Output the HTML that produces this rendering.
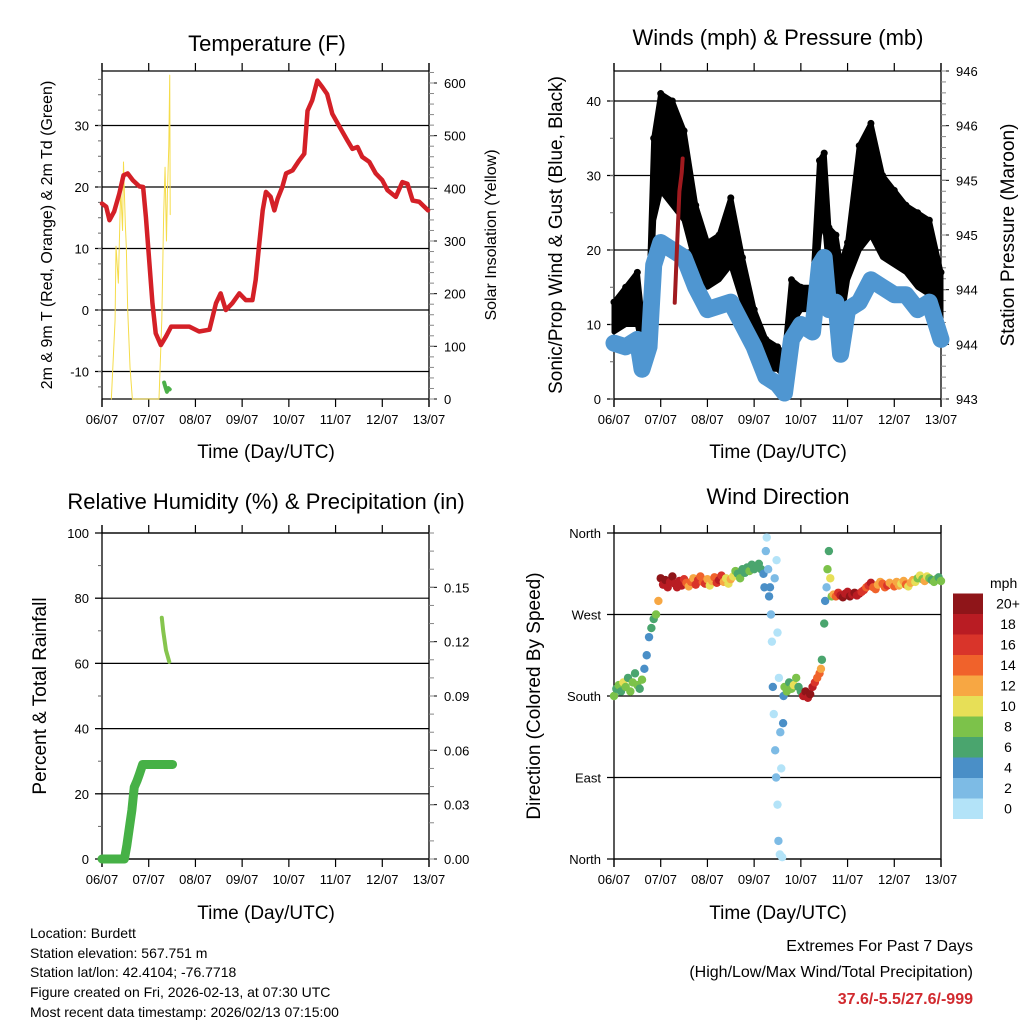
<!DOCTYPE html>
<html><head><meta charset="utf-8"><style>
html,body{margin:0;padding:0;background:#fff}
svg{display:block;font-family:"Liberation Sans",Arial,sans-serif}
</style></head><body>
<svg id="root" xmlns="http://www.w3.org/2000/svg" width="1024" height="1024" viewBox="0 0 1024 1024">
<rect width="1024" height="1024" fill="#fff"/>
<g id="g"></g>
<g font-size="22" text-anchor="middle">
<text x="267" y="51">Temperature (F)</text>
<text x="778" y="45">Winds (mph) &amp; Pressure (mb)</text>
<text x="266" y="509">Relative Humidity (%) &amp; Precipitation (in)</text>
<text x="778" y="504">Wind Direction</text>
</g>
<g font-size="19" text-anchor="middle">
<text x="266" y="458">Time (Day/UTC)</text>
<text x="778" y="458">Time (Day/UTC)</text>
<text x="266" y="919">Time (Day/UTC)</text>
<text x="778" y="919">Time (Day/UTC)</text>
<text transform="translate(52,235) rotate(-90)" font-size="16">2m &amp; 9m T (Red, Orange) &amp; 2m Td (Green)</text>
<text transform="translate(496,235) rotate(-90)" font-size="16">Solar Insolation (Yellow)</text>
<text transform="translate(562,235) rotate(-90)">Sonic/Prop Wind &amp; Gust (Blue, Black)</text>
<text transform="translate(1014,235) rotate(-90)">Station Pressure (Maroon)</text>
<text transform="translate(46,696) rotate(-90)">Percent &amp; Total Rainfall</text>
<text transform="translate(540,696) rotate(-90)">Direction (Colored By Speed)</text>
</g>
<g font-size="14">
<text x="30" y="938">Location: Burdett</text>
<text x="30" y="958">Station elevation: 567.751 m</text>
<text x="30" y="977">Station lat/lon: 42.4104; -76.7718</text>
<text x="30" y="997">Figure created on Fri, 2026-02-13, at 07:30 UTC</text>
<text x="30" y="1017">Most recent data timestamp: 2026/02/13 07:15:00</text>
</g>
<g font-size="16" text-anchor="end">
<text x="973" y="951">Extremes For Past 7 Days</text>
<text x="973" y="977">(High/Low/Max Wind/Total Precipitation)</text>
<text x="973" y="1004" fill="#d12a2f" font-weight="bold">37.6/-5.5/27.6/-999</text>
</g>
</svg>
<script>
// ---- data ----
const dayLabels=["06/07","07/07","08/07","09/07","10/07","11/07","12/07","13/07"];
const tempTime=[0,0.09,0.16,0.26,0.37,0.46,0.55,0.66,0.8,0.88,0.94,1.01,1.08,1.15,1.26,1.37,1.48,1.65,1.87,2.08,2.3,2.44,2.54,2.65,2.79,2.94,3.08,3.22,3.29,3.36,3.44,3.51,3.61,3.69,3.76,3.86,3.94,4.08,4.22,4.33,4.4,4.5,4.61,4.72,4.82,4.93,5.07,5.25,5.36,5.47,5.57,5.72,5.86,6,6.11,6.29,6.43,6.54,6.65,6.79,6.98];
const tempVals=[17.3,16.8,14.6,16,18.9,21.9,22.2,21.1,20.1,20,15.1,8.1,1.1,-3.8,-5.7,-4.3,-2.7,-2.7,-2.7,-3.5,-3.2,1.1,2.7,0,1.1,2.7,1.6,1.6,4.9,10.3,16.2,19.2,18.4,16.2,18.1,20,22.2,22.7,24.3,25.4,32.4,34.1,37.3,36.2,35.1,31.9,30,27.6,26.2,26.5,24.9,24.1,22.2,21.1,19.5,18.4,20.8,20.5,17.8,17.6,16.2];
const solarTime=[0.2,0.28,0.3,0.35,0.4,0.44,0.46,0.5,0.52,0.55,0.6,0.65,1.22,1.28,1.32,1.35,1.38,1.4,1.43,1.45,1.46];
const solarVals=[0,150,290,220,400,320,450,330,290,170,60,0,0,150,350,440,300,390,480,615,350];
const dewTime=[1.33,1.36,1.39,1.42,1.45];
const dewVals=[-11.8,-12.6,-13.3,-12.7,-12.9];
const windTime=[0,0.25,0.5,0.6,0.75,0.85,1,1.25,1.5,1.75,2,2.25,2.5,2.75,3,3.25,3.5,3.65,3.8,4,4.25,4.4,4.5,4.6,4.75,4.85,5,5.25,5.5,5.75,6,6.25,6.5,6.75,7];
const windVals=[7.5,7,8,4,7,18,21,20,19,15,12,12.5,13,10,7,3,2,0.8,8,10,9,18,19,12,13,6,12,13,16,15,14,14,12,13,8];
const gustLo=[9,10,10,7,9,24,28,26,24,18,15,16,18,13,8,4,4,3,10,12,12,22,24,17,16,10,16,20,22,19,18,17,15,14,10];
const gustHi=[13,15,17,11,15,35,41,40,36,26,21,22,27,19,12,8,7,6,16,15,15,32,33,23,22,18,21,34,37,30,28,26,25,24,17];
const presTime=[1.3,1.35,1.4,1.45,1.47];
const presVals=[943.88,944.4,944.9,945.07,945.2];
const rainTime=[0,0.48,0.53,0.58,0.64,0.69,0.75,0.8,0.87,1.51];
const rainVals=[0,0,4,9,15,22,24,26,29,29];
const rhTime=[1.28,1.31,1.34,1.37,1.41,1.44];
const rhVals=[74,70,67,64,62,60.5];
const dirTime=[0,0.05,0.1,0.15,0.2,0.25,0.3,0.35,0.4,0.45,0.5,0.55,0.6,
0.65,0.7,0.75,0.8,0.85,0.9,0.95,
1,1.05,1.1,1.15,1.2,1.25,1.3,1.35,1.4,1.45,1.5,1.55,1.6,1.65,1.7,1.75,1.8,1.85,1.9,1.95,2,2.05,2.1,2.15,2.2,2.25,2.3,2.35,2.4,2.45,2.5,
2.55,2.6,2.65,2.7,2.75,2.8,2.85,2.9,2.95,3,3.05,3.1,3.15,3.2,
3.22,3.25,3.27,3.3,3.32,3.34,3.36,3.38,3.4,3.42,3.45,3.47,3.5,3.52,3.55,3.44,3.48,3.5,3.53,3.56,3.58,3.6,3.62,3.63,
3.65,3.7,3.75,3.8,3.85,3.9,3.95,4,
4.05,4.1,4.15,4.2,4.25,4.3,4.35,4.4,4.43,
4.45,4.5,4.52,4.55,4.57,4.6,4.63,4.66,
4.7,4.75,4.8,4.85,4.9,4.95,5,5.05,5.1,5.15,5.2,5.25,5.3,5.35,5.4,5.45,5.5,5.55,5.6,5.65,5.7,5.75,5.8,5.85,5.9,5.95,6,6.05,6.1,6.15,6.2,6.25,6.3,6.35,6.4,6.45,6.5,6.55,6.6,6.65,6.7,6.75,6.8,6.85,6.9,6.95,7];
const dirVals=[180,188,192,185,195,190,200,185,195,205,192,188,198,
210,225,245,255,265,270,285,
310,303,308,300,306,312,304,300,307,302,309,305,301,306,310,303,308,312,306,304,309,302,307,311,305,308,313,306,310,304,309,
312,318,315,310,320,316,322,318,325,320,322,326,320,315,
300,340,355,320,290,300,270,240,190,160,120,90,60,20,5,310,330,250,200,140,100,2,150,180,
190,185,195,188,192,200,190,185,
180,185,178,182,190,195,200,205,210,
220,260,285,300,320,340,310,290,
292,290,294,291,289,293,295,290,292,294,291,293,295,297,300,302,305,300,298,303,306,304,300,302,305,303,301,306,302,304,307,303,301,305,308,306,310,313,309,307,312,310,308,306,309,311,307];
const dirSpeed=[8,7,8,7,10,8,7,8,9,7,8,6,8,
4,4,5,6,6,8,12,
20,19,20,18,19,20,18,19,19,18,16,14,12,14,12,16,17,15,14,16,12,10,12,14,16,18,16,13,11,10,12,
10,8,7,8,7,6,7,8,6,7,6,7,6,4,
4,2,1,3,4,4,2,1,4,1,2,3,1,2,0,3,1,1,1,2,0,0,4,4,
8,9,7,8,10,8,6,7,
18,20,19,20,18,16,14,14,12,
6,6,4,3,8,6,10,8,
12,14,16,18,20,18,19,20,18,20,19,18,16,17,14,16,18,15,14,13,12,14,15,16,13,12,14,12,13,11,12,14,10,12,13,10,9,10,8,12,10,8,7,9,8,7,8];
const tempTicks=[-10,0,10,20,30];
const solarTicks=[0,100,200,300,400,500,600];
const windTicks=[0,10,20,30,40];
const presTicks=[943,943.5,944,944.5,945,945.5,946];
const rhTicks=[0,20,40,60,80,100];
const rainTicks=[0,0.03,0.06,0.09,0.12,0.15];
const dirLabels=["North","East","South","West","North"];
const cbLabels=["0","2","4","6","8","10","12","14","16","18","20+"];
const cbColors=["#b3e3f8","#7dbbe5","#4a8fc7","#4aa56e","#7cc24a","#e7df57","#f7a743","#f0622b","#d9342a","#b91c23","#8f1519"];

// ---- helpers ----
const NS="http://www.w3.org/2000/svg";
const G=document.getElementById('g');
function mk(tag,attrs,parent){const e=document.createElementNS(NS,tag);for(const k in attrs)e.setAttribute(k,attrs[k]);(parent||G).appendChild(e);return e;}
function lin(d0,d1,r0,r1){return v=>r0+(v-d0)*(r1-r0)/(d1-d0);}

function panel(ox,top,bot,name,grid,yL,leftTicks,leftFmt,yR,rightTicks,rightFmt,minorL,minorR){
  const x=lin(0,7,ox,ox+327);
  const g=mk('g',{});
  
  
  grid.forEach(v=>{const l=mk('line',{x1:ox-7,x2:ox+327,y1:yL(v),y2:yL(v),stroke:'#000','stroke-width':1.2},g);});
  const f=mk('path',{d:`M${ox},${top}H${ox+327}M${ox},${top-8}V${bot+8}M${ox+327},${top-8}V${bot+8}M${ox},${bot}H${ox+327}`,stroke:'#000','stroke-width':1.3,fill:'none'},g);
  
  for(let d=0;d<=7;d++){
    const t=mk('path',{d:`M${x(d)},${top-8}V${top}M${x(d)},${bot}V${bot+8}`,stroke:'#000','stroke-width':1.2},g);
    
    const tx=mk('text',{x:x(d),y:bot+25,'font-size':13,'text-anchor':'middle'},g);
    
    tx.textContent=dayLabels[d];
  }
  leftTicks.forEach(v=>{
    const t=mk('line',{x1:ox-7,x2:ox,y1:yL(v),y2:yL(v),stroke:'#000'},g);
    const tx=mk('text',{x:ox-13,y:yL(v)+5,'font-size':13,'text-anchor':'end'},g);
    
    tx.textContent=leftFmt(v);
  });
  minorL.forEach(v=>{const t=mk('line',{x1:ox-4,x2:ox,y1:yL(v),y2:yL(v),stroke:'#666'},g);});
  if(yR){
    rightTicks.forEach(v=>{
      const t=mk('line',{x1:ox+327,x2:ox+335,y1:yR(v),y2:yR(v),stroke:'#000'},g);
      const tx=mk('text',{x:ox+342,y:yR(v)+5,'font-size':13},g);
      
      tx.textContent=rightFmt(v);
    });
    minorR.forEach(v=>{const t=mk('line',{x1:ox+327,x2:ox+332,y1:yR(v),y2:yR(v),stroke:'#888'},g);});
  }
  return {x,g};
}
function poly(xs,ys,X,Y,attrs,parent,name){
  const p=mk('polyline',Object.assign({points:xs.map((t,i)=>X(t)+','+Y(ys[i])).join(' '),fill:'none','stroke-linejoin':'round','stroke-linecap':'round'},attrs),parent);
  return p;
}
function range(a,b,s){const r=[];for(let v=a;v<=b+1e-9;v+=s)r.push(+v.toFixed(4));return r;}

// ---- Temperature ----
const yT=lin(0,10,310,248.5), yS=lin(0,600,399,83);
let P=panel(102,71,399,'temperature-panel',tempTicks,yT,tempTicks,v=>v,yS,solarTicks,v=>v,range(-12.5,37.5,2.5),range(0,620,20));
poly(solarTime,solarVals,P.x,yS,{stroke:'#f5dc4a','stroke-width':1},P.g,'solar-line');
poly(tempTime,tempVals,P.x,yT,{stroke:'#d42027','stroke-width':4.5},P.g,'temperature-line');
poly(dewTime,dewVals,P.x,yT,{stroke:'#4cb04a','stroke-width':4},P.g,'dewpoint-line');

// ---- Wind ----
const yW=lin(0,10,399,324.5), yP=lin(943,946,399,71);
P=panel(614,71,399,'wind-panel',windTicks,yW,windTicks,v=>v,yP,presTicks,v=>Math.round(v),range(0,44,5),range(943,946,0.1));
{
  const pts=windTime.map((t,i)=>P.x(t)+','+yW(gustHi[i])).concat(windTime.map((t,i)=>P.x(t)+','+yW(gustLo[i])).reverse());
  const band=mk('polygon',{points:pts.join(' '),fill:'#000',stroke:'#000','stroke-width':5,'stroke-linejoin':'round'},P.g);
  
  windTime.forEach((t,i)=>{
    const c=mk('circle',{cx:P.x(t),cy:yW(gustHi[i]),r:3.5,fill:'#000'},P.g);
    
  });
}
poly(windTime,windVals,P.x,yW,{stroke:'#4f96d1','stroke-width':17},P.g,'wind-line');
poly(presTime,presVals,P.x,yP,{stroke:'#a01a1f','stroke-width':4},P.g,'pressure-line');

// ---- RH ----
const yR=lin(0,100,859,533), yPr=lin(0,0.18,859,533);
P=panel(102,533,859,'humidity-panel',rhTicks,yR,rhTicks,v=>v,yPr,rainTicks,v=>v.toFixed(2),range(10,90,20),range(0,0.18,0.01));
poly(rainTime,rainVals,P.x,yR,{stroke:'#46b146','stroke-width':9},P.g,'rainfall-line');
poly(rhTime,rhVals,P.x,yR,{stroke:'#86c54e','stroke-width':4},P.g,'humidity-line');

// ---- Direction ----
const yD=lin(0,360,859,533);
P=panel(614,533,859,'wind-direction-panel',[0,90,180,270,360],yD,[0,90,180,270,360],v=>dirLabels[[0,90,180,270,360].indexOf(v)],null,[],null,[],[]);
function spdColor(s){return cbColors[Math.max(0,Math.min(10,Math.floor(s/2)))];}
dirTime.forEach((t,i)=>{
  const c=mk('circle',{cx:P.x(t),cy:yD(dirVals[i]),r:4.2,fill:spdColor(dirSpeed[i])},P.g);
  
  
});
{
  const cb=mk('g',{});
  
  const t=mk('text',{x:990,y:588,'font-size':14},cb);t.textContent='mph';
  cbColors.forEach((col,i)=>{
    const y0=819-(i+1)*20.5;
    const r=mk('rect',{x:953,y:y0,width:30,height:20.5,fill:col},cb);
    const l=mk('text',{x:1008,y:y0+15,'font-size':14,'text-anchor':'middle'},cb);l.textContent=cbLabels[i];
  });
}
</script>
</body></html>
